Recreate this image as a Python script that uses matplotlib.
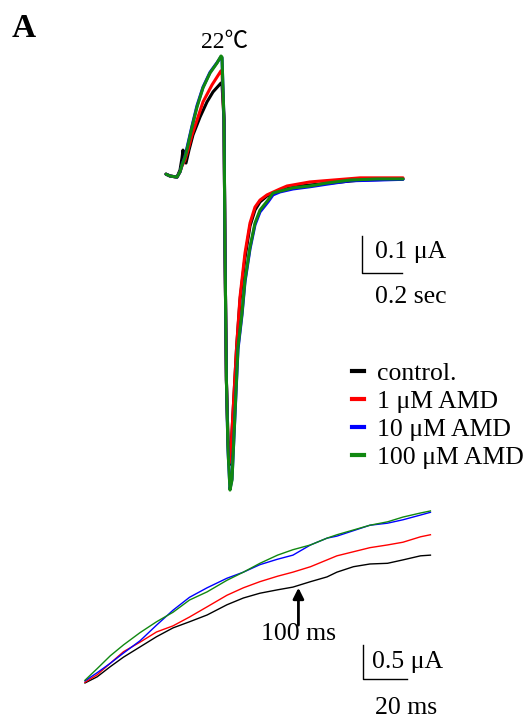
import matplotlib
matplotlib.use("Agg")
import matplotlib.pyplot as plt
from matplotlib.lines import Line2D

plt.rcParams['font.family'] = ['Liberation Serif', 'Noto Sans CJK SC', 'DejaVu Serif']

W, H = 531, 722
FS = 18.5

# ---------------- data: top panel (time in ms, current in nA) ----------------
labels = ["control.", "1 \u03bcM AMD", "10 \u03bcM AMD", "100 \u03bcM AMD"]
colors = ["#000000", "#ff0000", "#0000ff", "#118811"]

t_control = [0, 20, 55, 70, 80, 85, 90, 100, 115, 135, 170, 205, 235, 275, 280, 290, 295, 302, 310, 317,
             325, 335, 353, 370, 395, 420, 445, 470, 505, 570, 670, 820, 970, 1185]
i_control = [5, 0, -3, 16, 49, 70, 49, 35, 70, 111, 159, 200, 227, 251, 248, 151, -200, -551, -713, -780,
             -740, -640, -462, -335, -221, -135, -92, -70, -54, -38, -27, -19, -11, -8]

t_amd1 = [0, 20, 55, 70, 80, 95, 110, 130, 155, 185, 230, 275, 280, 290, 295, 302, 310, 317, 325, 335,
          353, 370, 395, 420, 445, 470, 505, 570, 605, 720, 970, 1185]
i_amd1 = [5, 0, -3, 11, 27, 43, 70, 111, 151, 200, 246, 284, 281, 151, -200, -551, -713, -775, -740, -640,
          -462, -327, -208, -127, -84, -65, -51, -35, -27, -16, -5, -5]

t_amd10 = [0, 20, 55, 70, 80, 95, 110, 130, 155, 185, 220, 255, 275, 280, 290, 295, 302, 310, 320, 330,
           345, 360, 380, 395, 420, 445, 470, 510, 535, 570, 635, 720, 805, 920, 1055, 1185]
i_amd10 = [5, 0, -3, 11, 30, 53, 88, 135, 190, 240, 280, 306, 322, 319, 151, -200, -551, -740, -845, -818,
           -645, -468, -375, -286, -197, -132, -97, -70, -51, -43, -35, -29, -22, -13, -11, -9]

t_amd100 = [0, 20, 55, 70, 80, 95, 110, 130, 155, 185, 220, 255, 275, 280, 290, 295, 302, 310, 320, 330,
            345, 360, 380, 395, 420, 445, 470, 510, 535, 570, 635, 720, 805, 920, 1055, 1185]
i_amd100 = [5, 0, -3, 11, 30, 51, 84, 132, 186, 238, 278, 305, 324, 321, 151, -200, -551, -740, -848, -821,
            -640, -462, -370, -281, -192, -127, -92, -65, -46, -41, -32, -27, -19, -11, -8, -8]

# ---------------- data: bottom panel (time in ms, current in uA) ----------------
t_zoom = [3, 8.5, 14.5, 20.5, 28, 35.5, 43, 50.5, 58.5, 67.5, 75, 82.5, 90.5, 97.5, 105.5, 113, 117.5,
          125, 132.5, 140.5, 147.5, 155.5, 160]
z_control = [0.00, 0.09, 0.24, 0.38, 0.53, 0.68, 0.81, 0.90, 1.00, 1.15, 1.25, 1.32, 1.37, 1.41, 1.49, 1.56,
             1.63, 1.71, 1.75, 1.76, 1.81, 1.87, 1.88]
z_amd1 = [0.01, 0.12, 0.29, 0.46, 0.60, 0.75, 0.84, 0.97, 1.12, 1.29, 1.40, 1.49, 1.57, 1.63, 1.71, 1.81,
          1.87, 1.93, 1.99, 2.03, 2.07, 2.15, 2.18]
z_amd10 = [0.03, 0.15, 0.29, 0.44, 0.62, 0.85, 1.07, 1.26, 1.40, 1.54, 1.63, 1.74, 1.82, 1.88, 2.03, 2.13,
           2.16, 2.24, 2.32, 2.35, 2.40, 2.47, 2.51]
z_amd100 = [0.04, 0.21, 0.40, 0.56, 0.74, 0.90, 1.04, 1.22, 1.34, 1.51, 1.63, 1.76, 1.88, 1.96, 2.03, 2.13,
            2.18, 2.25, 2.32, 2.37, 2.44, 2.50, 2.53]

top_series = [(t_control, i_control), (t_amd1, i_amd1), (t_amd10, i_amd10), (t_amd100, i_amd100)]
bot_series = [z_control, z_amd1, z_amd10, z_amd100]

fig = plt.figure(figsize=(W / 100, H / 100), dpi=100)


def fx(x):
    return x / W


def fy(y):
    return 1 - y / H


# ---------------- top axes ----------------
ax1 = fig.add_axes([fx(100), fy(510), 431 / W, 490 / H])
ax1.set_xlim(-330, 1825)
ax1.set_ylim(-901.8, 421.2)
ax1.axis('off')
for (t, i), c in zip(top_series, colors):
    ax1.plot(t, i, color=c, lw=2.2, solid_joinstyle='round', solid_capstyle='round')

# scale bar: 200 ms, 100 nA
sx, sy = 980, -262
ax1.plot([sx, sx, sx + 200], [sy + 100, sy, sy], color='k', lw=1.0)
ax1.text(sx + 65, sy + 57, "0.1 \u03bcA", fontsize=FS, va='center', ha='left')
ax1.text(sx + 65, sy - 65, "0.2 sec", fontsize=FS, va='center', ha='left')

# ---------------- bottom axes ----------------
ax2 = fig.add_axes([fx(60), 0, 471 / W, 222 / H])
ax2.set_xlim(-8.36, 205.7)
ax2.set_ylim(-0.574, 2.691)
ax2.axis('off')
for z, c in zip(bot_series, colors):
    ax2.plot(t_zoom, z, color=c, lw=1.0, solid_joinstyle='round')

ax2.annotate('', xy=(100, 1.40), xytext=(100, 0.85),
             arrowprops=dict(arrowstyle='-|>', lw=2, color='k', mutation_scale=16,
                             shrinkA=0, shrinkB=0))
ax2.text(100, 0.72, "100 ms", fontsize=FS, ha='center', va='center')

bx, by = 129.4, 0.06
ax2.plot([bx, bx, bx + 20], [by + 0.5, by, by], color='k', lw=1.0)
ax2.text(bx + 4.2, by + 0.25, "0.5 \u03bcA", fontsize=FS, va='center', ha='left')
ax2.text(bx + 5.5, by - 0.43, "20 ms", fontsize=FS, va='center', ha='left')

# ---------------- labels & legend ----------------
fig.text(fx(12), fy(37), "A", fontsize=24, fontweight='bold', ha='left', va='baseline')
fig.text(fx(225), fy(48), "22\u2103", fontsize=17, ha='center', va='baseline')

rows = [371, 399, 427, 455]
for lab, c, r in zip(labels, colors, rows):
    fig.add_artist(Line2D([fx(352), fx(364)], [fy(r), fy(r)], color=c, lw=3,
                          transform=fig.transFigure))
    fig.text(fx(377), fy(r + 9), lab, fontsize=FS, ha='left', va='baseline')

fig.savefig("out.png", dpi=100)
